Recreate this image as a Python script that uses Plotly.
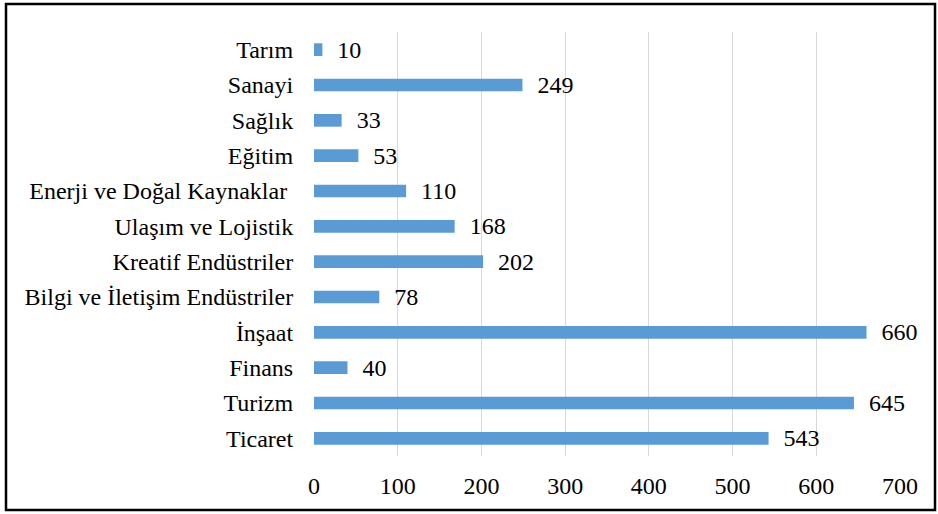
import plotly.graph_objects as go

sectors = ["Tarım", "Sanayi", "Sağlık", "Eğitim", "Enerji ve Doğal Kaynaklar ",
           "Ulaşım ve Lojistik", "Kreatif Endüstriler", "Bilgi ve İletişim Endüstriler",
           "İnşaat", "Finans", "Turizm", "Ticaret"]
counts = [10, 249, 33, 53, 110, 168, 202, 78, 660, 40, 645, 543]
x_ticks = [0, 100, 200, 300, 400, 500, 600, 700]

font = "Liberation Serif, Times New Roman, serif"

fig = go.Figure(go.Bar(
    y=sectors, x=counts, orientation="h",
    marker=dict(color="#5b9bd5", line=dict(width=0)),
    text=counts, texttemplate="\u00a0\u00a0%{x}", textposition="outside",
    textfont=dict(family=font, size=24, color="black"),
    constraintext="none", cliponaxis=False,
))

fig.update_layout(
    width=938, height=514,
    margin=dict(l=314, r=38, t=32, b=58),
    paper_bgcolor="white", plot_bgcolor="white",
    font=dict(family=font, size=24, color="black"),
    bargap=0.64,
    showlegend=False,
    xaxis=dict(range=[0, 700], tickvals=x_ticks, showgrid=True, gridcolor="#d9d9d9",
               gridwidth=1.3, zeroline=False, showline=False,
               ticks="outside", ticklen=0, ticklabelstandoff=8),
    yaxis=dict(autorange="reversed", showgrid=False, showline=False, zeroline=False,
               ticks="outside", ticklen=0, ticklabelstandoff=15),
    shapes=[dict(type="rect", xref="paper", yref="paper",
                 x0=(6 - 314) / 586, x1=(935 - 314) / 586,
                 y0=(456 - 510) / 424, y1=(456 - 4) / 424,
                 line=dict(color="black", width=2.5))],
)

fig.write_html("out.html", config={"displayModeBar": False},
               post_script="document.body.style.margin='0px';")
